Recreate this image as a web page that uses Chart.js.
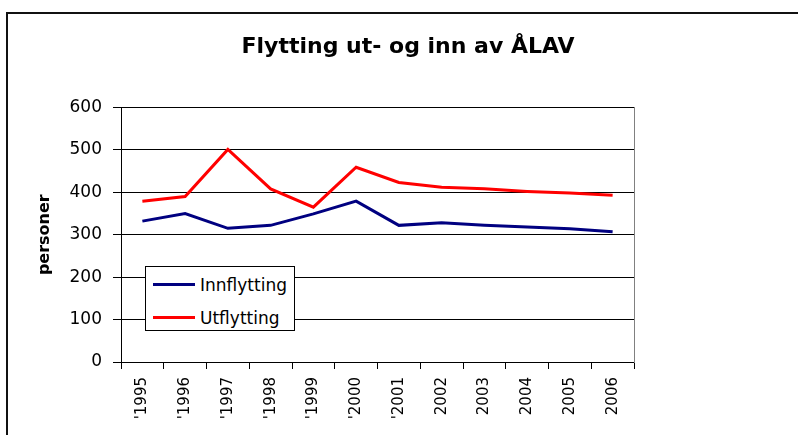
<!DOCTYPE html>
<html lang="no">
  <head>
    <meta charset="UTF-8" />
    <title>Flytting ut- og inn av ÅLAV</title>
    <script src="https://cdn.jsdelivr.net/npm/chart.js"></script>
    <style>
      html,
      body {
        margin: 0;
        padding: 0;
        width: 798px;
        height: 435px;
        overflow: hidden;
        background: #fff;
        font-family: "DejaVu Sans", sans-serif;
      }

      .frame {
        position: absolute;
        left: 6px;
        top: 12px;
        width: 900px;
        height: 600px;
        border: 2px solid #111;
      }

      .chart-box {
        position: absolute;
        left: 0;
        top: 0;
        width: 798px;
        height: 435px;
      }

      .legend {
        position: absolute;
        left: 145px;
        top: 266px;
        width: 148px;
        height: 63px;
        border: 1px solid #000;
        background: #fff;
      }

      .legend-item {
        position: absolute;
        left: 0;
        height: 20px;
        font-size: 17px;
        line-height: 20px;
        color: #000;
      }

      .legend-item .swatch {
        position: absolute;
        left: 7px;
        top: 8px;
        width: 42px;
        height: 3px;
      }

      .legend-item .label {
        position: absolute;
        left: 54px;
        top: 0;
        white-space: nowrap;
      }
    </style>
  </head>
  <body>
    <div class="frame"></div>
    <div class="chart-box">
      <canvas id="lineChart" width="798" height="435"></canvas>
    </div>
    <div class="legend" id="legend"></div>

    <script>
      // Data
      const years = ["'1995", "'1996", "'1997", "'1998", "'1999", "'2000", "'2001", "2002", "2003", "2004", "2005", "2006"];
      const innflytting = [332, 350, 315, 322, 349, 379, 322, 328, 322, 318, 314, 307];
      const utflytting = [379, 390, 501, 408, 365, 459, 423, 412, 408, 402, 398, 393];

      const seriesNames = ["Innflytting", "Utflytting"];
      const seriesColors = ["#000080", "#ff0000"];

      const fontFamily = "'DejaVu Sans', sans-serif";

      const ctx = document.getElementById("lineChart").getContext("2d");
      new Chart(ctx, {
        type: "line",
        data: {
          labels: years,
          datasets: [
            {
              label: seriesNames[0],
              data: innflytting,
              borderColor: seriesColors[0],
              borderWidth: 3,
              pointRadius: 0,
              tension: 0,
              fill: false,
            },
            {
              label: seriesNames[1],
              data: utflytting,
              borderColor: seriesColors[1],
              borderWidth: 3,
              pointRadius: 0,
              tension: 0,
              fill: false,
            },
          ],
        },
        options: {
          responsive: false,
          animation: false,
          layout: {
            padding: { left: 18, right: 0, top: 0, bottom: 0 },
          },
          plugins: {
            legend: { display: false },
            tooltip: { enabled: false },
            title: {
              display: true,
              text: "Flytting ut- og inn av ÅLAV",
              color: "#000",
              font: { family: fontFamily, size: 22, weight: "bold" },
              padding: { top: 34, bottom: 47 },
            },
          },
          scales: {
            x: {
              offset: true,
              grid: {
                offset: true,
                drawOnChartArea: false,
                drawTicks: true,
                tickLength: 7,
                tickColor: "#000",
              },
              border: { color: "#000", width: 1 },
              ticks: {
                color: "#000",
                font: { family: fontFamily, size: 15 },
                minRotation: 90,
                maxRotation: 90,
                autoSkip: false,
                padding: 8,
              },
              afterFit: (scale) => {
                scale.height = 73;
              },
            },
            y: {
              min: 0,
              max: 600,
              ticks: {
                stepSize: 100,
                color: "#000",
                font: { family: fontFamily, size: 17 },
                padding: 11,
              },
              grid: {
                color: "#000",
                lineWidth: 1,
                tickLength: 8,
                tickColor: "#000",
              },
              border: { color: "#000", width: 1 },
              title: {
                display: true,
                text: "personer",
                color: "#000",
                font: { family: fontFamily, size: 16, weight: "bold" },
                padding: { top: 17, bottom: 0 },
              },
              afterFit: (scale) => {
                scale.width = 103;
              },
            },
            // empty right axis: closes the plot frame and keeps the blank space on the right
            y2: {
              position: "right",
              min: 0,
              max: 600,
              ticks: { display: false },
              grid: { drawOnChartArea: false, drawTicks: false },
              border: { color: "#808080", width: 1 },
              afterFit: (scale) => {
                scale.width = 164;
              },
            },
          },
        },
      });

      // Legend box placed inside the plot area, as in the original
      const legendEl = document.getElementById("legend");
      seriesNames.forEach((name, i) => {
        const item = document.createElement("div");
        item.className = "legend-item";
        item.style.top = (8 + i * 33) + "px";
        item.style.width = "100%";
        item.innerHTML =
          '<span class="swatch" style="background:' + seriesColors[i] + '"></span>' +
          '<span class="label">' + name + "</span>";
        legendEl.appendChild(item);
      });
    </script>
  </body>
</html>
